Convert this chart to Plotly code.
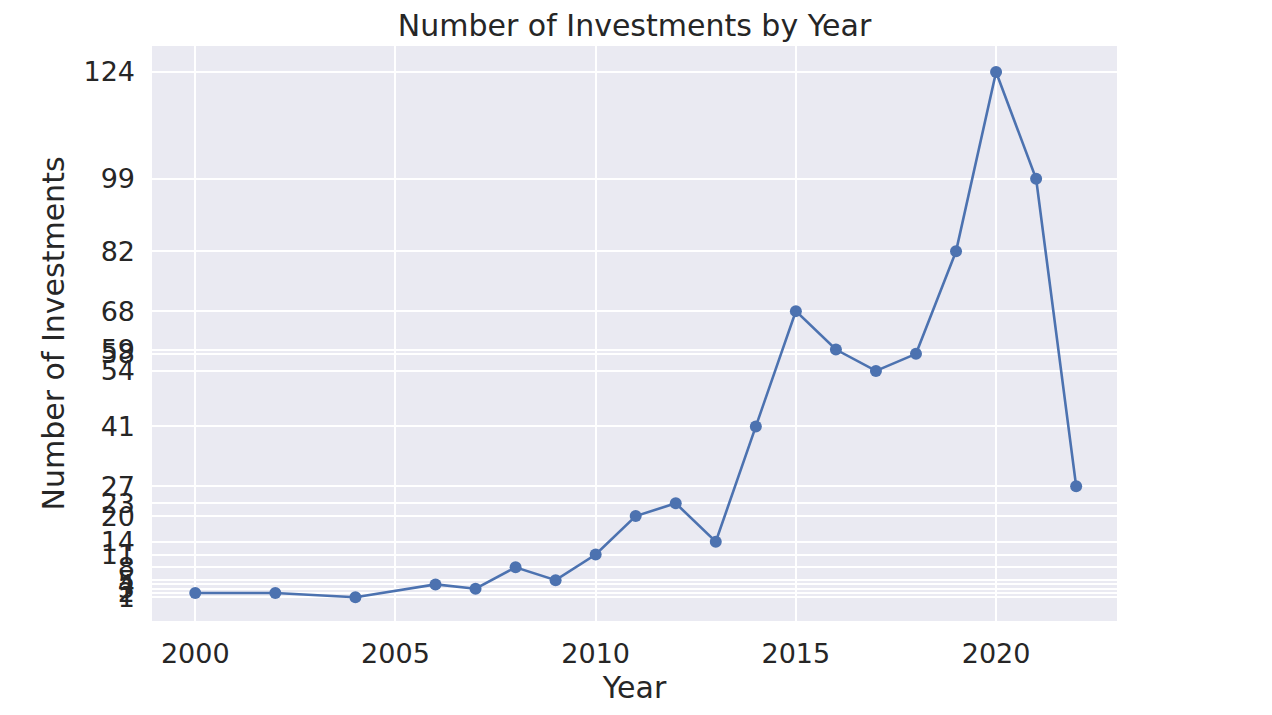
import plotly.graph_objects as go

years = [2000, 2002, 2004, 2006, 2007, 2008, 2009, 2010, 2011, 2012, 2013,
         2014, 2015, 2016, 2017, 2018, 2019, 2020, 2021, 2022]
investments = [2, 2, 1, 4, 3, 8, 5, 11, 20, 23, 14,
               41, 68, 59, 54, 58, 82, 124, 99, 27]
x_ticks = [2000, 2005, 2010, 2015, 2020]
y_ticks = sorted(set(investments))

fig = go.Figure()
fig.add_trace(go.Scatter(
    x=years, y=investments, mode="lines+markers",
    line=dict(color="#4C72B0", width=2.6),
    marker=dict(color="#4C72B0", size=12),
))

fig.update_layout(
    width=1272, height=715,
    paper_bgcolor="white", plot_bgcolor="#EAEAF2",
    margin=dict(l=144, r=163, t=38, b=102),
    font=dict(family="DejaVu Sans", color="#262626", size=27),
    title=dict(text="Number of Investments by Year", x=0.5, xanchor="center",
               xref="paper", y=0.975, yanchor="middle", font=dict(size=30)),
    showlegend=False,
)
fig.update_xaxes(
    range=[1998.92, 2023.02], tickmode="array", tickvals=x_ticks,
    showgrid=True, gridcolor="white", gridwidth=1.6, zeroline=False,
    showline=False, ticks="", ticklen=0, ticklabelstandoff=14,
    title=dict(text="Year", font=dict(size=30), standoff=8),
)
fig.update_yaxes(
    range=[-4.57, 130.09], tickmode="array", tickvals=y_ticks,
    showgrid=True, gridcolor="white", gridwidth=1.6, zeroline=False,
    showline=False, ticks="", ticklen=0, ticklabelstandoff=16,
    title=dict(text="Number of Investments", font=dict(size=30), standoff=9),
)

fig.write_html("out.html")
